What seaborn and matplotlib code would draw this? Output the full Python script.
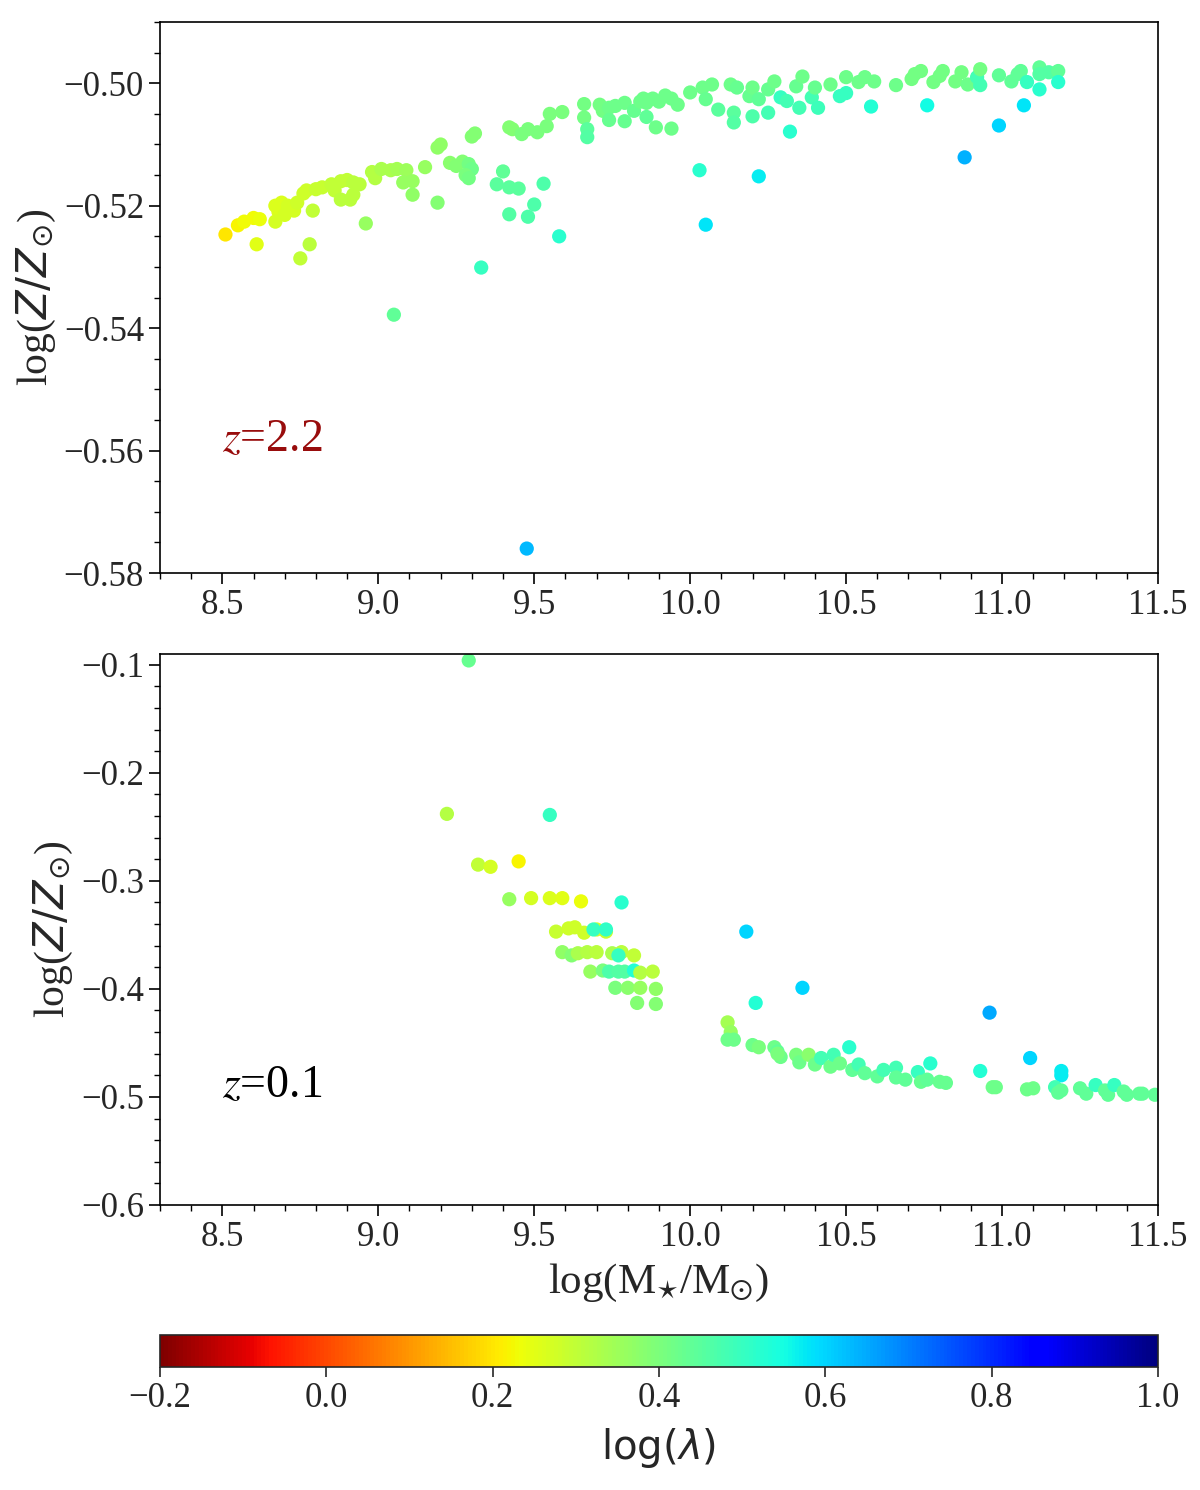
import numpy as np
import pandas as pd
import matplotlib
matplotlib.use("Agg")
import matplotlib.pyplot as plt
import seaborn as sns
from matplotlib.ticker import MultipleLocator
from matplotlib.colors import Normalize
from matplotlib.cm import ScalarMappable

# ---------------- data: z = 2.2 ----------------
mass_z22 = [8.51, 8.55, 8.57, 8.60, 8.62, 8.61, 8.67, 8.68, 8.69, 8.71, 8.70, 8.73, 8.74, 8.67,
            8.75, 8.78, 8.79, 8.76, 8.77, 8.80, 8.82, 8.85, 8.86, 8.88, 8.90, 8.92, 8.94, 8.88,
            8.91, 8.92, 8.96, 8.98, 8.99, 9.01, 9.04, 9.06, 9.09, 9.08, 9.11, 9.11, 9.15, 9.19,
            9.20, 9.19, 9.23, 9.25, 9.27, 9.29, 9.30, 9.28, 9.29, 9.30, 9.31, 9.40, 9.38, 9.42,
            9.45, 9.53, 9.50, 9.42, 9.48, 9.58, 9.33, 9.05, 9.42, 9.43, 9.46, 9.48, 9.51, 9.54,
            9.55, 9.59, 9.66, 9.66, 9.67, 9.67, 9.71, 9.72, 9.74, 9.74, 9.76, 9.79, 9.79, 9.82,
            9.84, 9.85, 9.86, 9.86, 9.88, 9.90, 9.92, 9.94, 9.96, 9.89, 9.94, 10.00, 10.04, 10.07,
            10.05, 10.09, 10.13, 10.15, 10.14, 10.14, 10.19, 10.20, 10.20, 10.22, 10.25, 10.25,
            10.27, 10.29, 10.31, 10.34, 10.35, 10.36, 10.32, 10.39, 10.40, 10.41, 10.45, 10.48,
            10.50, 10.50, 10.54, 10.56, 10.59, 10.58, 10.66, 10.71, 10.72, 10.74, 10.76, 10.78,
            10.80, 10.81, 10.85, 10.87, 10.89, 10.92, 10.93, 10.93, 10.88, 10.99, 10.99, 11.03,
            11.05, 11.06, 11.08, 11.07, 11.12, 11.12, 11.15, 11.18, 11.12, 11.18, 10.03, 10.22,
            10.05, 9.476]
metal_z22 = [-0.5247, -0.5232, -0.5226, -0.5220, -0.5222, -0.5263, -0.5200, -0.5210, -0.5195,
             -0.5200, -0.5215, -0.5208, -0.5195, -0.5226, -0.5286, -0.5263, -0.5208, -0.5180,
             -0.5175, -0.5173, -0.5170, -0.5165, -0.5175, -0.5160, -0.5158, -0.5162, -0.5165,
             -0.5190, -0.5190, -0.5182, -0.5229, -0.5145, -0.5155, -0.5140, -0.5142, -0.5140,
             -0.5142, -0.5162, -0.5160, -0.5182, -0.5137, -0.5105, -0.5100, -0.5195, -0.5130,
             -0.5135, -0.5128, -0.5132, -0.5140, -0.5150, -0.5155, -0.5087, -0.5082, -0.5144,
             -0.5165, -0.5170, -0.5172, -0.5164, -0.5198, -0.5214, -0.5218, -0.5250, -0.5301,
             -0.5378, -0.5072, -0.5075, -0.5083, -0.5075, -0.5080, -0.5070, -0.5050, -0.5047,
             -0.5034, -0.5056, -0.5075, -0.5088, -0.5035, -0.5045, -0.5040, -0.5060, -0.5037,
             -0.5032, -0.5062, -0.5045, -0.5030, -0.5025, -0.5032, -0.5055, -0.5025, -0.5030,
             -0.5020, -0.5025, -0.5035, -0.5072, -0.5074, -0.5015, -0.5007, -0.5002, -0.5026,
             -0.5043, -0.5002, -0.5007, -0.5048, -0.5064, -0.5021, -0.5007, -0.5054, -0.5026,
             -0.5048, -0.5010, -0.4997, -0.5023, -0.5029, -0.5005, -0.5040, -0.4989, -0.5079,
             -0.5023, -0.5007, -0.5040, -0.5002, -0.5021, -0.4990, -0.5016, -0.4998, -0.4990,
             -0.4997, -0.5038, -0.5003, -0.4993, -0.4985, -0.4980, -0.5036, -0.4998, -0.4988,
             -0.4980, -0.4997, -0.4982, -0.5002, -0.4990, -0.4977, -0.5003, -0.5121, -0.4987,
             -0.5069, -0.4997, -0.4985, -0.4980, -0.4998, -0.5036, -0.4974, -0.4985, -0.4982,
             -0.4980, -0.5010, -0.4998, -0.5142, -0.5152, -0.5231, -0.5760]
lam_z22 = [0.20, 0.22, 0.23, 0.23, 0.24, 0.25, 0.26, 0.26, 0.26, 0.27, 0.27, 0.27, 0.28, 0.27,
           0.30, 0.31, 0.30, 0.28, 0.28, 0.29, 0.29, 0.30, 0.30, 0.30, 0.30, 0.31, 0.31, 0.31,
           0.31, 0.31, 0.36, 0.32, 0.32, 0.33, 0.33, 0.34, 0.35, 0.36, 0.36, 0.37, 0.36, 0.37,
           0.37, 0.39, 0.38, 0.39, 0.39, 0.41, 0.42, 0.40, 0.41, 0.39, 0.39, 0.44, 0.45, 0.45,
           0.45, 0.47, 0.47, 0.46, 0.47, 0.52, 0.50, 0.44, 0.39, 0.39, 0.40, 0.40, 0.40, 0.40,
           0.40, 0.40, 0.41, 0.41, 0.45, 0.46, 0.41, 0.41, 0.42, 0.43, 0.42, 0.42, 0.43, 0.43,
           0.42, 0.42, 0.42, 0.44, 0.42, 0.42, 0.42, 0.42, 0.42, 0.42, 0.42, 0.42, 0.42, 0.42,
           0.43, 0.45, 0.42, 0.43, 0.45, 0.46, 0.43, 0.42, 0.47, 0.44, 0.48, 0.43, 0.42, 0.50,
           0.48, 0.43, 0.48, 0.42, 0.52, 0.48, 0.43, 0.49, 0.42, 0.50, 0.42, 0.50, 0.42, 0.42,
           0.42, 0.53, 0.42, 0.41, 0.41, 0.41, 0.55, 0.41, 0.41, 0.41, 0.41, 0.41, 0.42, 0.48,
           0.41, 0.48, 0.64, 0.44, 0.60, 0.44, 0.44, 0.44, 0.50, 0.58, 0.44, 0.46, 0.46, 0.44,
           0.52, 0.52, 0.52, 0.57, 0.58, 0.63]

# ---------------- data: z = 0.1 ----------------
mass_z01 = [9.29, 9.22, 9.55, 9.32, 9.36, 9.45, 9.42, 9.49, 9.55, 9.59, 9.65, 9.78,
            9.57, 9.61, 9.63, 9.66, 9.70, 9.73, 9.69, 9.73,
            9.59, 9.62, 9.64, 9.67, 9.70, 9.75, 9.78, 9.82, 9.77,
            9.68, 9.72, 9.74, 9.77, 9.79, 9.82, 9.84, 9.88,
            9.76, 9.80, 9.84, 9.89, 9.83, 9.89,
            10.18, 10.36, 10.21, 10.96, 11.09, 11.19, 11.19, 10.93, 10.77, 10.51,
            10.12, 10.13, 10.12, 10.14, 10.20, 10.22, 10.27, 10.28, 10.29, 10.28,
            10.34, 10.35, 10.38, 10.40, 10.42, 10.45, 10.46, 10.48, 10.52, 10.54, 10.56,
            10.60, 10.62, 10.66, 10.66, 10.69, 10.73, 10.74, 10.76, 10.80, 10.82,
            10.97, 10.98, 11.08, 11.10, 11.17, 11.18, 11.19,
            11.25, 11.27, 11.30, 11.33, 11.34, 11.36, 11.39, 11.40, 11.44, 11.45, 11.49]
metal_z01 = [-0.096, -0.238, -0.239, -0.285, -0.287, -0.282, -0.317, -0.316, -0.316, -0.316,
             -0.319, -0.320,
             -0.347, -0.344, -0.343, -0.348, -0.345, -0.347, -0.345, -0.345,
             -0.366, -0.369, -0.367, -0.366, -0.366, -0.367, -0.366, -0.369, -0.369,
             -0.384, -0.383, -0.384, -0.384, -0.384, -0.383, -0.385, -0.384,
             -0.399, -0.399, -0.399, -0.400, -0.413, -0.414,
             -0.347, -0.399, -0.413, -0.422, -0.464, -0.476, -0.480, -0.476, -0.469, -0.454,
             -0.431, -0.440, -0.447, -0.447, -0.452, -0.454, -0.454, -0.458, -0.463, -0.460,
             -0.461, -0.468, -0.461, -0.470, -0.464, -0.472, -0.461, -0.469, -0.475, -0.470,
             -0.478, -0.481, -0.475, -0.473, -0.482, -0.484, -0.477, -0.486, -0.484, -0.486,
             -0.487, -0.491, -0.491, -0.493, -0.492, -0.491, -0.496, -0.494,
             -0.492, -0.497, -0.489, -0.494, -0.498, -0.489, -0.495, -0.498, -0.497, -0.497,
             -0.498]
lam_z01 = [0.43, 0.32, 0.50, 0.30, 0.27, 0.22, 0.36, 0.27, 0.26, 0.25, 0.24, 0.52,
           0.29, 0.28, 0.28, 0.28, 0.28, 0.29, 0.50, 0.51,
           0.37, 0.39, 0.33, 0.32, 0.31, 0.33, 0.31, 0.30, 0.50,
           0.36, 0.40, 0.47, 0.46, 0.46, 0.53, 0.32, 0.31,
           0.40, 0.38, 0.36, 0.37, 0.39, 0.39,
           0.60, 0.60, 0.53, 0.65, 0.60, 0.57, 0.57, 0.53, 0.52, 0.52,
           0.34, 0.36, 0.42, 0.42, 0.42, 0.40, 0.42, 0.44, 0.42, 0.40,
           0.40, 0.42, 0.38, 0.42, 0.48, 0.42, 0.48, 0.42, 0.44, 0.48, 0.44,
           0.44, 0.48, 0.48, 0.44, 0.44, 0.50, 0.43, 0.44, 0.43, 0.43,
           0.42, 0.42, 0.42, 0.42, 0.48, 0.44, 0.44,
           0.44, 0.44, 0.50, 0.44, 0.44, 0.50, 0.44, 0.44, 0.44, 0.44, 0.44]

tick_labels_cbar = [-0.2, 0.0, 0.2, 0.4, 0.6, 0.8, 1.0]

df22 = pd.DataFrame({"mass": mass_z22, "metal": metal_z22, "lam": lam_z22})
df01 = pd.DataFrame({"mass": mass_z01, "metal": metal_z01, "lam": lam_z01})

sns.set_style("ticks")
plt.rcParams["font.family"] = ["Liberation Serif", "DejaVu Serif"]
plt.rcParams["axes.unicode_minus"] = True
plt.rcParams["mathtext.fontset"] = "stix"

VMIN, VMAX = -0.2, 1.0
CMAP = "jet_r"

fig = plt.figure(figsize=(12, 14.9), dpi=100)
ax1 = fig.add_axes([0.1333, 0.6154, 0.8317, 0.3698])
ax2 = fig.add_axes([0.1333, 0.1913, 0.8317, 0.3698])
cax = fig.add_axes([0.1333, 0.0826, 0.8317, 0.0215])

for ax, df in [(ax1, df22), (ax2, df01)]:
    sns.scatterplot(data=df, x="mass", y="metal", hue="lam", palette=CMAP,
                    hue_norm=(VMIN, VMAX), s=105, linewidth=0, legend=False, ax=ax)
    ax.set_xlim(8.3, 11.5)
    ax.xaxis.set_major_locator(MultipleLocator(0.5))
    ax.xaxis.set_minor_locator(MultipleLocator(0.1))
    ax.tick_params(axis="both", which="major", direction="out", length=8, width=1.2,
                   labelsize=25, color="black")
    ax.tick_params(axis="both", which="minor", direction="out", length=4.5, width=1.0,
                   color="black")
    ax.set_xlabel("")
    for sp in ax.spines.values():
        sp.set_linewidth(1.2)
        sp.set_color("black")
    ax.set_ylabel(r"log($Z/Z_{\odot}$)", fontsize=30, math_fontfamily="dejavusans")

ax1.set_ylim(-0.58, -0.49)
ax1.yaxis.set_major_locator(MultipleLocator(0.02))
ax1.yaxis.set_minor_locator(MultipleLocator(0.005))
ax1.yaxis.set_major_formatter(matplotlib.ticker.FuncFormatter(lambda v, p: f"{v:.2f}".replace("-", "\u2212")))

ax2.set_ylim(-0.6, -0.09)
ax2.yaxis.set_major_locator(MultipleLocator(0.1))
ax2.yaxis.set_minor_locator(MultipleLocator(0.02))
ax2.yaxis.set_major_formatter(matplotlib.ticker.FuncFormatter(lambda v, p: f"{v:.1f}".replace("-", "\u2212")))
ax2.set_xlabel(r"log(M$_{\star}$/M$_{\odot}$)", fontsize=31, labelpad=6)

ax1.text(8.5, -0.56, r"$z$=2.2", fontsize=33, color="#980c0c")
ax2.text(8.5, -0.50, r"$z$=0.1", fontsize=33, color="black")

sm = ScalarMappable(norm=Normalize(VMIN, VMAX), cmap=CMAP)
cb = fig.colorbar(sm, cax=cax, orientation="horizontal", ticks=tick_labels_cbar)
cb.ax.set_xticklabels([f"{t:.1f}".replace("-", "\u2212") for t in tick_labels_cbar])
cb.ax.tick_params(labelsize=25, length=7, width=1.2, direction="out")
cb.outline.set_linewidth(1.2)
cb.set_label(r"log($\lambda$)", fontsize=29, family="DejaVu Sans",
             math_fontfamily="dejavusans", labelpad=8)

fig.savefig("out.png", dpi=100)
